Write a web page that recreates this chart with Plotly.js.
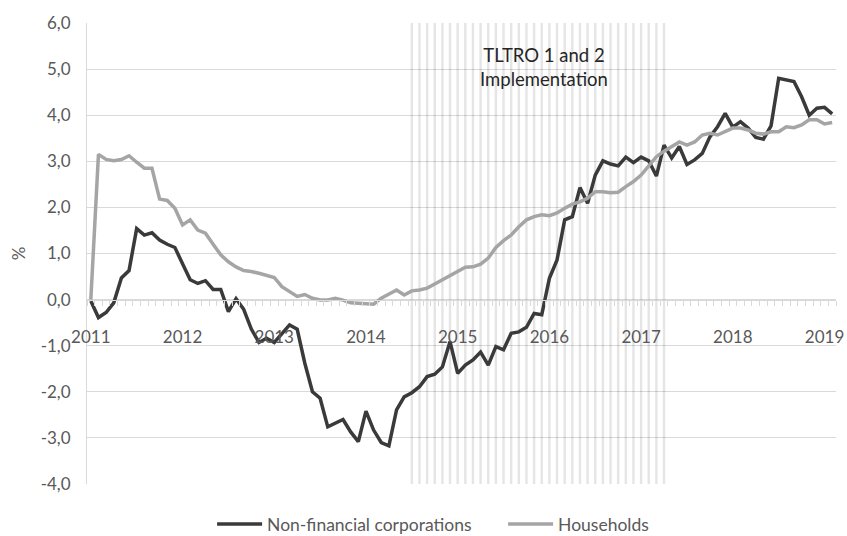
<!DOCTYPE html>
<html>
<head>
<meta charset="utf-8">
<script src="https://cdn.plot.ly/plotly-3.0.1.min.js"></script>
<style>html,body{margin:0;padding:0;background:#fff;}#chart{width:847px;height:536px;}</style>
</head>
<body>
<div id="chart"></div>
<script>
// Monthly categories Jan 2011 - Feb 2019
const startYear = 2011;
const nMonths = 98;
const months = [];
for (let i = 0; i < nMonths; i++) {
  const y = startYear + Math.floor(i / 12);
  const m = (i % 12) + 1;
  months.push(y + '-' + (m < 10 ? '0' + m : m));
}

const nonFinancialCorporations = [
  -0.03,-0.39,-0.28,-0.07,0.47,0.63,1.54,1.40,1.45,1.29,1.20,1.13,
  0.78,0.43,0.35,0.41,0.22,0.22,-0.26,0.02,-0.21,-0.64,-0.93,-0.84,
  -0.93,-0.73,-0.55,-0.64,-1.38,-2.00,-2.14,-2.76,-2.68,-2.60,-2.87,-3.08,
  -2.42,-2.83,-3.10,-3.17,-2.39,-2.11,-2.02,-1.89,-1.67,-1.62,-1.46,-0.91,
  -1.60,-1.42,-1.31,-1.14,-1.42,-1.02,-1.09,-0.73,-0.70,-0.60,-0.30,-0.33,
  0.46,0.86,1.73,1.80,2.43,2.09,2.70,3.01,2.94,2.90,3.09,2.97,
  3.09,3.01,2.68,3.35,3.07,3.32,2.93,3.03,3.17,3.53,3.75,4.04,
  3.74,3.86,3.72,3.52,3.48,3.77,4.80,4.76,4.73,4.40,4.00,4.15,
  4.17,4.03
];
const households = [
  0.00,3.15,3.04,3.01,3.04,3.12,2.98,2.85,2.85,2.18,2.15,1.98,
  1.62,1.73,1.51,1.44,1.20,0.97,0.82,0.71,0.63,0.61,0.57,0.53,
  0.48,0.28,0.17,0.07,0.11,0.03,-0.01,-0.01,0.03,-0.01,-0.07,-0.08,
  -0.10,-0.10,0.03,0.12,0.21,0.10,0.19,0.21,0.25,0.34,0.43,0.51,
  0.61,0.70,0.71,0.77,0.90,1.13,1.28,1.40,1.58,1.73,1.80,1.84,
  1.82,1.88,1.98,2.07,2.12,2.20,2.34,2.34,2.32,2.33,2.45,2.56,
  2.70,2.90,3.10,3.22,3.32,3.42,3.35,3.42,3.57,3.61,3.57,3.64,
  3.72,3.72,3.68,3.61,3.59,3.64,3.64,3.75,3.73,3.79,3.90,3.90,
  3.81,3.84
];
// TLTRO 1 and 2 implementation period (striped area)
const tltroStart = '2014-07';
const tltroEnd = '2017-04';
const tltroMonths = months.filter(m => m >= tltroStart && m <= tltroEnd);
const yMin = -4, yMax = 6;
const yTickVals = [-4, -3, -2, -1, 0, 1, 2, 3, 4, 5, 6];
const yTickText = ['-4,0', '-3,0', '-2,0', '-1,0', '0,0', '1,0', '2,0', '3,0', '4,0', '5,0', '6,0'];

const tickText = months.map(m => m.endsWith('-01') ? m.slice(0, 4) : '');

const font = 'Lato, "Open Sans", sans-serif';
const traces = [
  {
    type: 'bar', x: tltroMonths, y: tltroMonths.map(() => yMax - yMin), base: yMin,
    width: 0.32, marker: {color: 'rgba(0,0,0,0.1)', line: {width: 0}},
    showlegend: false, hoverinfo: 'skip'
  },
  {
    type: 'scatter', mode: 'lines', name: 'Non-financial corporations',
    x: months, y: nonFinancialCorporations,
    line: {color: '#3a3a3a', width: 3.5}
  },
  {
    type: 'scatter', mode: 'lines', name: 'Households',
    x: months, y: households,
    line: {color: '#a5a5a5', width: 3.5}
  }
];

const layout = {
  width: 847, height: 536,
  margin: {l: 87, r: 11, t: 23, b: 52, autoexpand: false},
  paper_bgcolor: '#fff', plot_bgcolor: '#fff',
  separators: ',.',
  font: {family: font, size: 17, color: '#595959'},
  showlegend: true,
  hovermode: false,
  legend: {
    orientation: 'h', x: 0.167, xanchor: 'left', y: -0.048, yanchor: 'top',
    font: {family: font, size: 17.5, color: '#595959'},
    itemwidth: 45, traceorder: 'normal',
    entrywidth: 231, entrywidthmode: 'pixels'
  },
  xaxis: {
    type: 'category', categoryorder: 'array', categoryarray: months,
    range: [-0.5, nMonths - 0.5],
    anchor: 'free', position: (0 - yMin) / (yMax - yMin),
    showline: true, linecolor: '#d9d9d9', linewidth: 1,
    ticks: 'outside', ticklen: 5, tickcolor: '#d9d9d9', tickwidth: 1,
    tickson: 'boundaries',
    tickmode: 'array', tickvals: months, ticktext: tickText,
    tickangle: 0, ticklabelstandoff: 22,
    showgrid: false, zeroline: false,
    tickfont: {family: font, size: 17, color: '#595959'}
  },
  yaxis: {
    range: [yMin, yMax], domain: [0, 1],
    tickmode: 'array', tickvals: yTickVals, ticktext: yTickText,
    showline: true, linecolor: '#d9d9d9', linewidth: 1,
    showgrid: true, gridcolor: '#d9d9d9', gridwidth: 1,
    zeroline: false, ticks: '', ticklabelstandoff: 12,
    tickfont: {family: font, size: 17, color: '#595959'},
    title: {text: '%', font: {family: font, size: 17, color: '#595959'}, standoff: 10}
  },
  annotations: [{
    xref: 'x', yref: 'y', x: 59.3, y: 5.05,
    text: 'TLTRO 1 and 2<br>Implementation', showarrow: false,
    font: {family: font, size: 18.5, color: '#262626'},
    align: 'center', xanchor: 'center', yanchor: 'middle'
  }]
};

Plotly.newPlot('chart', traces, layout, {displayModeBar: false, staticPlot: true});
</script>
</body>
</html>
